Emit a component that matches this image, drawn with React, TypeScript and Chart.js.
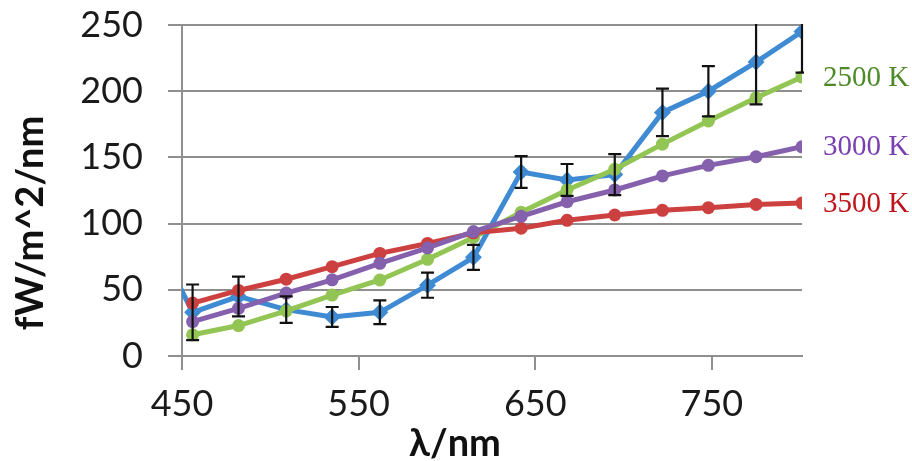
import React, { useEffect, useRef } from "react";
import { Chart, registerables } from "chart.js";

Chart.register(...registerables);

// ---- data ----
const wavelengthsNm = [429, 456, 482, 509, 535, 562, 589, 615, 642, 668, 695, 722, 748, 775, 801];
const measured = [105, 33, 45, 35, 29.5, 33, 53.5, 74.5, 139, 133, 137, 184, 200, 222, 245];
const measuredErr = [0, 21, 15, 10, 7.5, 9, 9.5, 9.5, 12, 12, 15.5, 18, 19, 32, 31];
const bb2500 = [null, 16, 23, 34, 46, 57.4, 73, 89.5, 108.5, 125.4, 141, 160, 177.5, 195, 210.7];
const bb3000 = [null, 26, 36, 47.5, 57.5, 70, 81.6, 94, 105.5, 116.5, 125.4, 136, 144, 150.5, 158];
const bb3500 = [null, 40, 49.5, 58, 67.5, 77.5, 85, 93, 96.5, 102.5, 106.5, 110, 112, 114.5, 115.5];
const seriesLabels = ["2500 K", "3000 K", "3500 K"];
const xTicks = [450, 550, 650, 750];
const yTicks = [0, 50, 100, 150, 200, 250];
const xTitle = "λ/nm";
const yTitle = "fW/m^2/nm";

const BLUE = "#3f8bd3";
const GREEN = "#93c555";
const PURPLE = "#8561ad";
const RED = "#cd4040";
const GRID = "#8f8f8f";
const FONT = "Lato, 'Noto Sans', 'DejaVu Sans', sans-serif";

export default function App() {
  const ref = useRef<HTMLCanvasElement>(null);

  useEffect(() => {
    document.body.style.margin = "0";
    const canvas = ref.current!;
    const pts = (vals: (number | null)[]) => wavelengthsNm.map((x, i) => ({ x, y: vals[i] }));

    const endLabels = [
      { text: seriesLabels[0], values: bb2500, color: "#4e8a2a" },
      { text: seriesLabels[1], values: bb3000, color: "#7a3fb0" },
      { text: seriesLabels[2], values: bb3500, color: "#c0141c" },
    ];

    const errorBars = {
      id: "errorBars",
      afterDatasetsDraw(chart: any) {
        const { ctx, chartArea: a, scales } = chart;
        const x = scales.x, y = scales.y;
        ctx.save();
        ctx.beginPath();
        ctx.rect(a.left, a.top - 1, a.right - a.left + 2, a.bottom - a.top + 1);
        ctx.clip();
        ctx.strokeStyle = "#111";
        ctx.lineWidth = 2.2;
        wavelengthsNm.forEach((nm, i) => {
          const v = measured[i];
          const e = measuredErr[i];
          if (!e) return;
          const px = x.getPixelForValue(nm);
          const hi = y.getPixelForValue(v + e);
          const lo = y.getPixelForValue(v - e);
          ctx.beginPath();
          ctx.moveTo(px, hi);
          ctx.lineTo(px, lo);
          ctx.moveTo(px - 6.5, hi);
          ctx.lineTo(px + 6.5, hi);
          ctx.moveTo(px - 6.5, lo);
          ctx.lineTo(px + 6.5, lo);
          ctx.stroke();
        });
        ctx.restore();
      },
    };

    const annotations = {
      id: "annotations",
      afterDraw(chart: any) {
        const { ctx, chartArea: a, scales } = chart;
        const y = scales.y;
        ctx.save();
        ctx.font = "29px 'Liberation Serif', 'Times New Roman', serif";
        ctx.textBaseline = "middle";
        ctx.textAlign = "left";
        endLabels.forEach((l) => {
          const last = l.values[l.values.length - 1] as number;
          ctx.fillStyle = l.color;
          ctx.fillText(l.text, a.right + 21, y.getPixelForValue(last) + 1);
        });
        ctx.fillStyle = "#111";
        ctx.font = `bold 38px ${FONT}`;
        ctx.textAlign = "center";
        ctx.textBaseline = "alphabetic";
        ctx.fillText(xTitle, a.left + 273, 456);
        ctx.translate(43, 223);
        ctx.rotate(-Math.PI / 2);
        ctx.fillText(yTitle, 0, 0);
        ctx.restore();
      },
    };

    const lineDs = (label: string, vals: (number | null)[], color: string, order: number, style: any, r: number) => ({
      label,
      data: pts(vals),
      borderColor: color,
      backgroundColor: color,
      pointBackgroundColor: color,
      pointBorderColor: color,
      pointStyle: style,
      pointRadius: r,
      pointBorderWidth: 0,
      borderWidth: 5,
      tension: 0,
      order,
      clip: 0,
    });

    const chart = new Chart(canvas, {
      type: "line",
      data: {
        datasets: [
          lineDs("measured", measured, BLUE, 3, "rectRot", 8.5),
          lineDs(seriesLabels[0], bb2500, GREEN, 2, "circle", 6.5),
          lineDs(seriesLabels[2], bb3500, RED, 1, "circle", 6.5),
          lineDs(seriesLabels[1], bb3000, PURPLE, 0, "circle", 6.5),
        ] as any,
      },
      options: {
        responsive: false,
        animation: false,
        layout: { padding: { top: 25, right: 110, left: 0, bottom: 0 } },
        plugins: { legend: { display: false }, tooltip: { enabled: false } },
        scales: {
          x: {
            type: "linear",
            min: 450,
            max: 801,
            afterBuildTicks: (s: any) => {
              s.ticks = xTicks.map((v) => ({ value: v }));
            },
            afterFit: (s: any) => {
              s.height = 105;
              s.paddingLeft = 0;
              s.paddingRight = 0;
            },
            grid: { drawOnChartArea: false, drawTicks: true, tickLength: 14, color: GRID, lineWidth: 2 },
            border: { color: GRID, width: 2 },
            ticks: { font: { family: FONT, size: 36 }, color: "#1a1a1a", padding: 13, maxRotation: 0 },
          },
          y: {
            type: "linear",
            min: 0,
            max: 250,
            afterBuildTicks: (s: any) => {
              s.ticks = yTicks.map((v) => ({ value: v }));
            },
            afterFit: (s: any) => {
              s.width = 182;
              s.paddingTop = 0;
              s.paddingBottom = 0;
            },
            grid: { color: GRID, lineWidth: 2, tickLength: 14 },
            border: { color: GRID, width: 2 },
            ticks: { font: { family: FONT, size: 36 }, color: "#1a1a1a", padding: 25 },
          },
        },
      } as any,
      plugins: [errorBars, annotations],
    });
    return () => chart.destroy();
  }, []);

  return (
    <div style={{ position: "absolute", left: 0, top: 0, width: 912, height: 461 }}>
      <canvas ref={ref} width={912} height={461} style={{ display: "block" }} />
    </div>
  );
}
